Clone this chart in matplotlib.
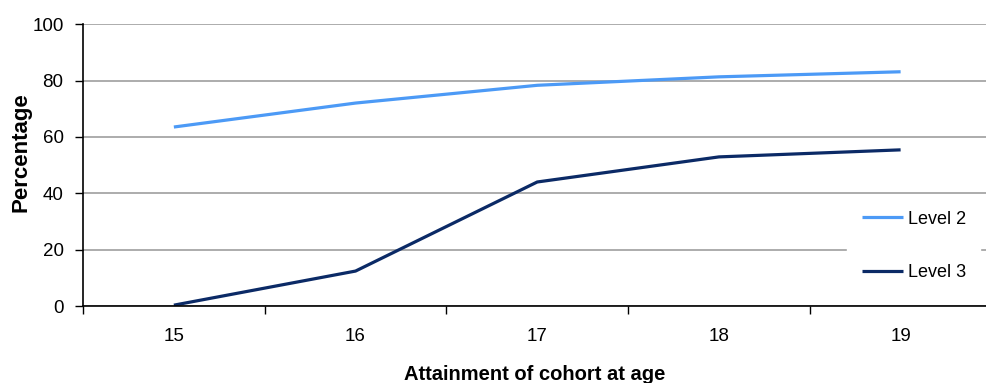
import matplotlib.pyplot as plt
from matplotlib.ticker import FixedLocator

plt.rcParams["font.family"] = ["Liberation Sans", "DejaVu Sans"]

ages = [15, 16, 17, 18, 19]
level2 = [63.5, 72.0, 78.3, 81.3, 83.1]
level3 = [0.3, 12.4, 44.0, 52.9, 55.4]

fig = plt.figure(figsize=(9.86, 3.83), dpi=100)
ax = fig.add_axes([0.0842, 0.201, 0.9158, 0.736])

ax.plot(ages, level2, color="#4C9AF6", lw=2.3, label="Level 2", solid_capstyle="butt")
ax.plot(ages, level3, color="#0B2A66", lw=2.3, label="Level 3", solid_capstyle="butt")

ax.set_xlim(14.5, 19.47)
ax.set_ylim(0, 100)
ax.set_yticks(range(0, 101, 20))
ax.set_xticks(ages)
ax.xaxis.set_minor_locator(FixedLocator([14.5, 15.5, 16.5, 17.5, 18.5]))
ax.tick_params(axis="x", which="major", length=0, pad=16, labelsize=13.5)
ax.tick_params(axis="x", which="minor", length=6, width=1, direction="out", color="black")
ax.tick_params(axis="y", length=6, width=1, direction="out", labelsize=13.5, pad=8)

ax.grid(axis="y", color="#A6A6A6", lw=1.3)
ax.set_axisbelow(True)
for side in ("top", "right"):
    ax.spines[side].set_visible(False)
ax.spines["left"].set_linewidth(1.2)
ax.spines["bottom"].set_linewidth(1.2)

ax.set_ylabel("Percentage", fontsize=16, fontweight="bold")
ax.yaxis.set_label_coords(-0.0576, 0.546)
ax.set_xlabel("Attainment of cohort at age", fontsize=14.5, fontweight="bold", labelpad=14)

leg = ax.legend(loc="lower right", bbox_to_anchor=(1.0037, 0.006), frameon=True,
                fancybox=False, framealpha=1, edgecolor="white", fontsize=13,
                handlelength=2.3, handletextpad=0.25, labelspacing=2.0,
                borderpad=0.8)

fig.savefig("out.png", dpi=100)
